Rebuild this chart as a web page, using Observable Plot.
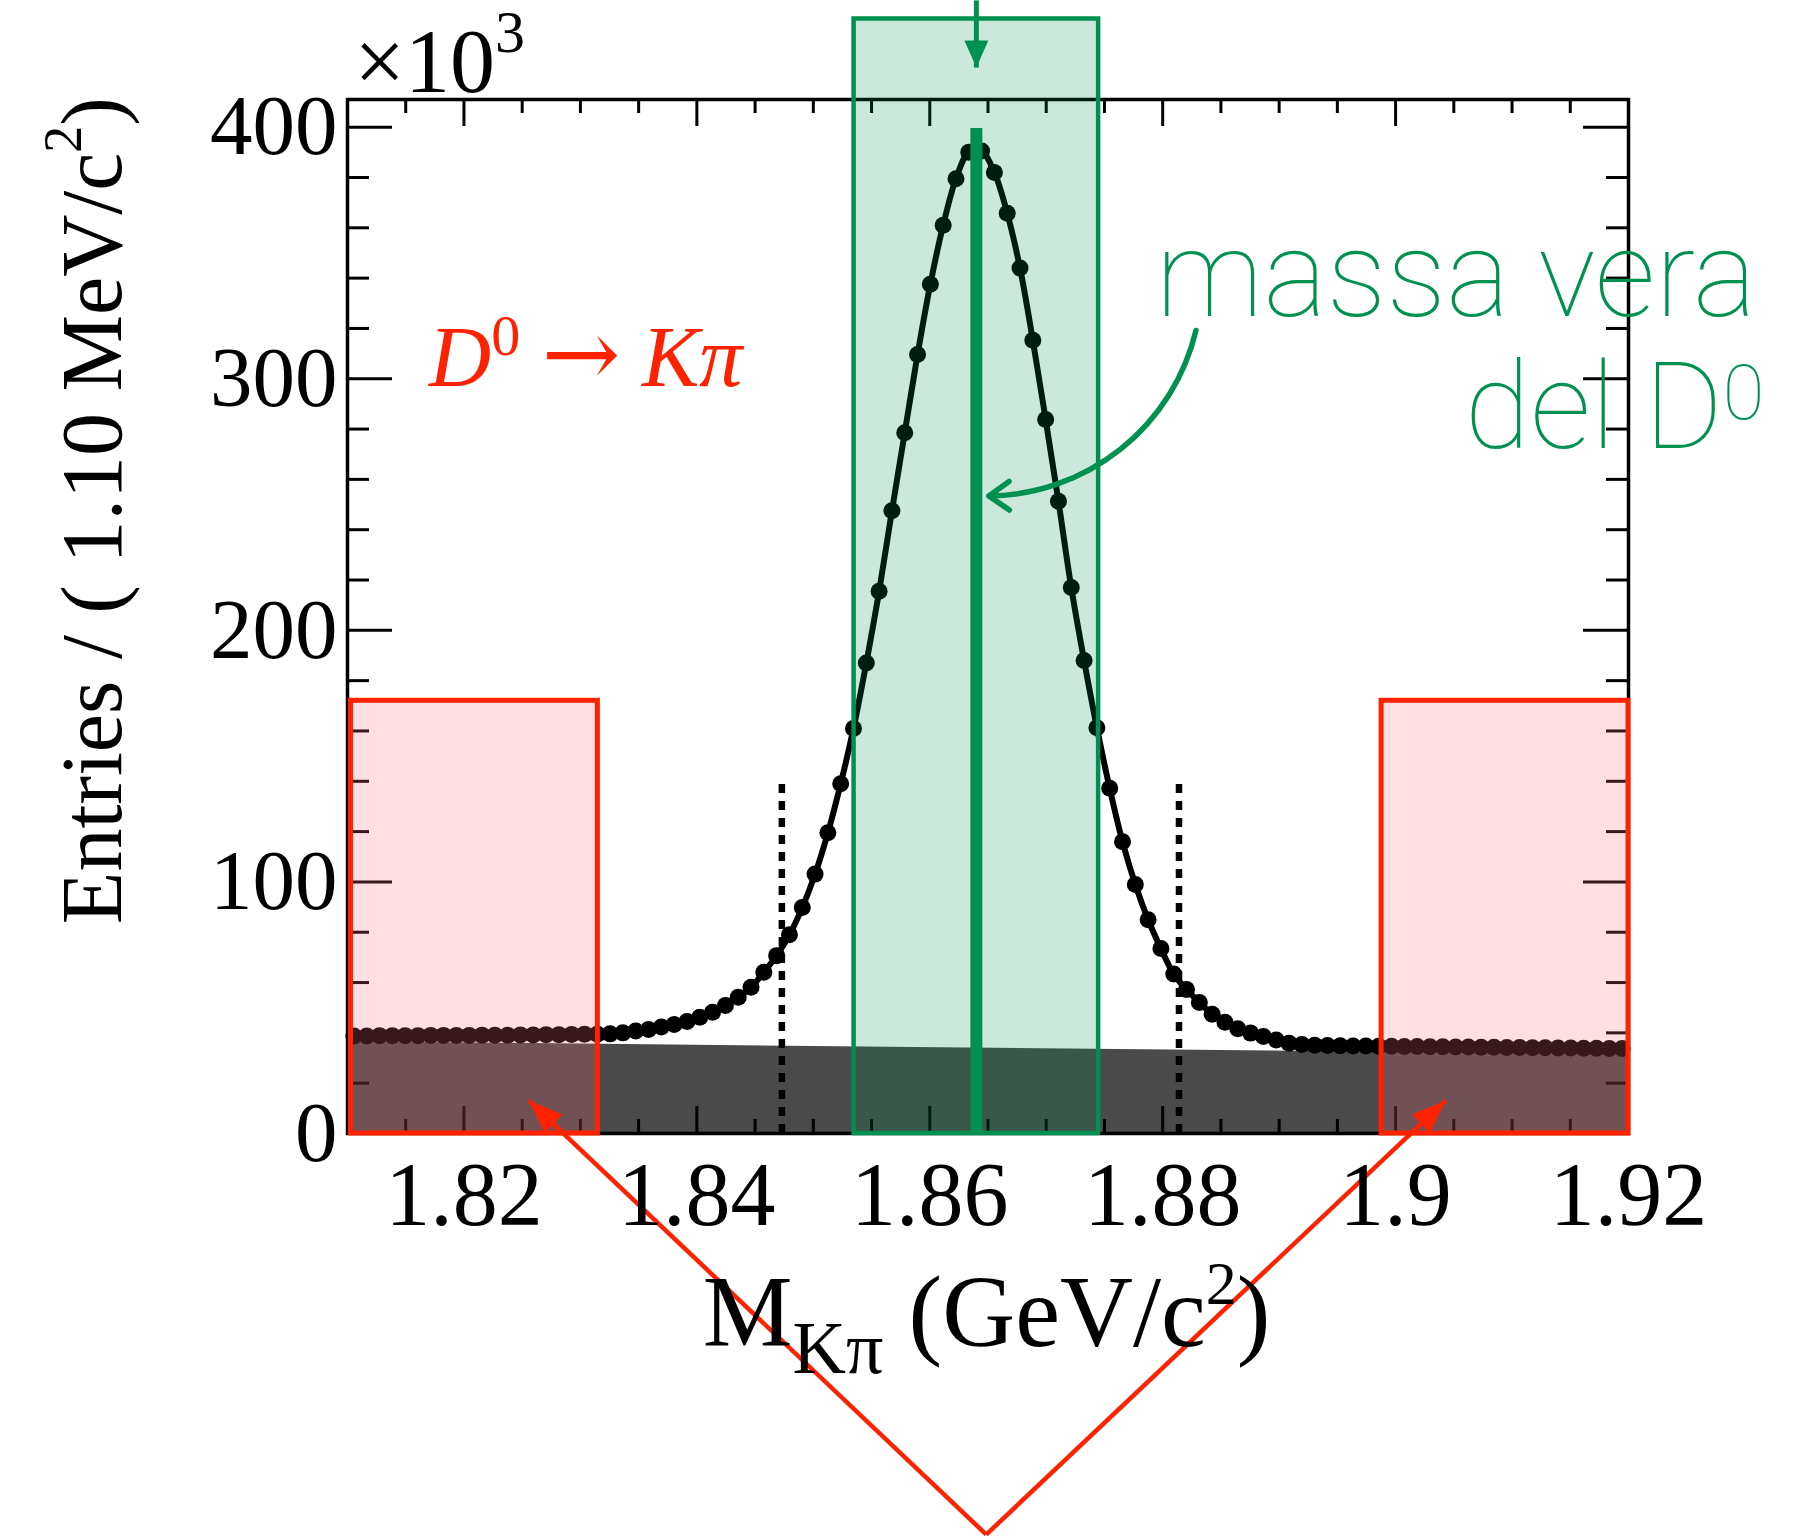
<!DOCTYPE html>
<html>
<head>
<meta charset="utf-8">
<script src="https://cdn.jsdelivr.net/npm/d3@7"></script>
<script src="https://cdn.jsdelivr.net/npm/@observablehq/plot@0.6"></script>
<style>
  html, body { margin: 0; padding: 0; background: #ffffff; }
  #chart svg { display: block; }
</style>
</head>
<body>
<div id="chart"></div>
<script>
// ---------------- data ----------------
// histogram of M(Kπ): 100 bins of 1.10 MeV starting at 1.81 GeV
const binLow = 1.81;
const binWidth = 0.0011;
// entries per bin (×10^3)
const counts = [
  38.8, 38.8, 38.9, 38.9, 38.9, 38.9, 39.0, 39.0, 39.0, 39.0,
  39.1, 39.1, 39.1, 39.2, 39.2, 39.3, 39.3, 39.4, 39.5, 39.5,
  39.6, 40.0, 40.7, 41.3, 42.3, 43.3, 44.5, 46.2, 48.2, 50.9,
  54.2, 58.1, 64.1, 70.7, 79.0, 89.8, 103.1, 119.5, 139.0, 161.0,
  187.0, 215.5, 247.5, 278.5, 309.6, 337.6, 361.0, 379.5, 390.0, 390.5,
  382.0, 365.8, 344.0, 315.3, 283.8, 251.3, 217.0, 188.0, 161.3, 137.2,
  116.0, 99.0, 85.0, 73.5, 63.4, 57.2, 52.1, 47.4, 44.2, 41.6,
  39.9, 38.6, 37.2, 35.9, 35.4, 35.1, 35.0, 34.9, 34.8, 34.8,
  34.7, 34.7, 34.6, 34.6, 34.5, 34.5, 34.4, 34.4, 34.3, 34.3,
  34.2, 34.2, 34.1, 34.1, 34.0, 34.0, 33.9, 33.9, 33.8, 33.8
];
// linear background component (×10^3)
const bgMass = [1.81, 1.92];
const bgCounts = [36.5, 31.3];

// axes
const xDomain = [1.81, 1.92];
const yDomain = [0, 411];
const xMajorTicks = [1.82, 1.84, 1.86, 1.88, 1.90, 1.92];
const xTickLabels = ["1.82", "1.84", "1.86", "1.88", "1.9", "1.92"];
const xMinorTicks = [1.815, 1.825, 1.83, 1.835, 1.845, 1.85, 1.855, 1.865, 1.87, 1.875,
                     1.885, 1.89, 1.895, 1.905, 1.91, 1.915];
const yMajorTicks = [0, 100, 200, 300, 400];
const yTickLabels = ["0", "100", "200", "300", "400"];
const yMinorTicks = [20, 40, 60, 80, 120, 140, 160, 180, 220, 240, 260, 280, 320, 340, 360, 380];

// regions & markers (data units)
const signalWindow = [1.8535, 1.8745];
const signalTop = 443;
const sidebandLo = [1.8103, 1.8315];
const sidebandHi = [1.8988, 1.92];
const sidebandTop = 172;
const trueMass = [1.864];
const trueMassTop = 399.5;
const cutMass = [1.8473, 1.8814];
const cutTop = 139;

// arrows (data units)
const topArrow = [{x: 1.864, y1: 450.4, y2: 423.7}];
const curvedArrow = [{x1: 1.88286, y1: 319.2, x2: 1.86507, y2: 253.4}];
const sidebandArrows = [
  {x1: 1.86485, y1: -159.4, x2: 1.82557, y2: 13.1},
  {x1: 1.86485, y1: -159.4, x2: 1.90430, y2: 13.1}
];

// texts
const exponentText = [{text: "×10^{3}", x: 1.81057, y: 413.8}];
const decayText = [{text: "D^{0} → Kπ", x: 1.81700, y: 297.3}];
const massText = [
  {text: "massa vera", x: 1.93098, y: 325.1},
  {text: "del D^{0}", x: 1.93166, y: 272.3}
];
const xTitle = [{text: "M_{Kπ} (GeV/c^{2})", x: 1.8405, y: -84.3}];
const yTitle = [{text: "Entries / ( 1.10 MeV/c^{2})", x: 1.79058, y: 247.6}];

// ---------------- layout ----------------
const W = 1819, H = 1536, ML = 347, MR = 191, MT = 99, MB = 403;
const PW = W - ML - MR, PH = H - MT - MB;
const sx = d3.scaleLinear(xDomain, [ML, W - MR]);
const sy = d3.scaleLinear(yDomain, [H - MB, MT]);

const SERIF = "'Liberation Serif', 'Times New Roman', serif";
const THIN = "Roboto, Lato, Inter, sans-serif";
const GREEN = "#009150";
const RED = "#ff2200";

const table = counts.map((n, i) => ({m: binLow + binWidth * (i + 0.5), n}));
const bgTable = bgMass.map((m, i) => ({m, n: bgCounts[i]}));

function headSymbol(angle, L, Wd) {
  const c = Math.cos(angle), s = Math.sin(angle);
  return {
    draw(ctx) {
      const bx = -L * c, by = -L * s, px = -s, py = c;
      ctx.moveTo(0, 0);
      ctx.lineTo(bx + Wd * px, by + Wd * py);
      ctx.lineTo(bx - Wd * px, by - Wd * py);
      ctx.closePath();
    }
  };
}
const angleOf = (d) => Math.atan2(sy(d.y2) - sy(d.y1), sx(d.x2) - sx(d.x1));

const TW = 3;
const marks = [
  // background component
  Plot.areaY(bgTable, {x: "m", y: "n", fill: "#4a4a4a"}),
  // ticks (inside the frame, on all four sides)
  Plot.tickX(xMinorTicks, {insetTop: PH - 14, stroke: "#000", strokeWidth: TW}),
  Plot.tickX(xMajorTicks, {insetTop: PH - 27, stroke: "#000", strokeWidth: TW}),
  Plot.tickX(xMinorTicks, {insetBottom: PH - 14, stroke: "#000", strokeWidth: TW}),
  Plot.tickX(xMajorTicks, {insetBottom: PH - 27, stroke: "#000", strokeWidth: TW}),
  Plot.tickY(yMinorTicks, {insetRight: PW - 22, stroke: "#000", strokeWidth: TW}),
  Plot.tickY(yMajorTicks, {insetRight: PW - 45, stroke: "#000", strokeWidth: TW}),
  Plot.tickY(yMinorTicks, {insetLeft: PW - 22, stroke: "#000", strokeWidth: TW}),
  Plot.tickY(yMajorTicks, {insetLeft: PW - 45, stroke: "#000", strokeWidth: TW}),
  // dotted cut lines
  Plot.ruleX(cutMass, {y1: 0, y2: cutTop, stroke: "#000", strokeWidth: 6.5, strokeDasharray: "9,8"}),
  // data + fit
  Plot.line(table, {x: "m", y: "n", curve: "catmull-rom", stroke: "#000", strokeWidth: 6}),
  Plot.dot(table, {x: "m", y: "n", r: 8.5, fill: "#000"}),
  Plot.frame({stroke: "#000", strokeWidth: 3.5}),
  // signal window and sidebands
  Plot.rect([signalWindow], {x1: d => d[0], x2: d => d[1], y1: 0, y2: signalTop,
    fill: "#008c50", fillOpacity: 0.2, stroke: GREEN, strokeWidth: 4.5}),
  Plot.rect([sidebandLo, sidebandHi], {x1: d => d[0], x2: d => d[1], y1: 0, y2: sidebandTop,
    fill: "#ff717a", fillOpacity: 0.22, stroke: RED, strokeWidth: 5}),
  // true mass line
  Plot.ruleX(trueMass, {y1: 0, y2: trueMassTop, stroke: GREEN, strokeWidth: 12}),
  // top green arrow
  Plot.link(topArrow, {x1: "x", x2: "x", y1: "y1", y2: "y2", stroke: GREEN, strokeWidth: 5}),
  Plot.dot(topArrow, {x: "x", y: "y2", r: 10, fill: GREEN, symbol: headSymbol(Math.PI / 2, 27, 12)}),
  // curved green arrow
  Plot.arrow(curvedArrow, {x1: "x1", y1: "y1", x2: "x2", y2: "y2", bend: 38,
    stroke: GREEN, strokeWidth: 5.5, headLength: 6.8, headAngle: 70}),
  // red arrows to sidebands
  Plot.link(sidebandArrows, {x1: "x1", y1: "y1", x2: "x2", y2: "y2", stroke: RED, strokeWidth: 4.5}),
  ...sidebandArrows.map(a => Plot.dot([a], {x: "x2", y: "y2", r: 10, fill: RED,
    symbol: headSymbol(angleOf(a), 34, 13)})),
  // tick labels
  Plot.text(yMajorTicks, {y: d => d, text: (d, i) => yTickLabels[i], frameAnchor: "left", dx: -10,
    textAnchor: "end", lineAnchor: "middle", fontSize: 85, fontFamily: SERIF, fill: "#000"}),
  Plot.text(xMajorTicks, {x: d => d, text: (d, i) => xTickLabels[i], frameAnchor: "bottom", dy: 91,
    textAnchor: "middle", lineAnchor: "bottom", fontSize: 90, fontFamily: SERIF, fill: "#000"}),
  // annotations / titles
  Plot.text(exponentText, {x: "x", y: "y", text: "text", textAnchor: "start", lineAnchor: "bottom",
    fontSize: 90, fontFamily: SERIF, fill: "#000"}),
  Plot.text(decayText, {x: "x", y: "y", text: "text", textAnchor: "start", lineAnchor: "bottom",
    fontSize: 86, fontFamily: SERIF, fontStyle: "italic", fill: RED}),
  Plot.text(massText, {x: "x", y: "y", text: "text", textAnchor: "end", lineAnchor: "bottom",
    fontSize: 120, fontFamily: THIN, fontWeight: 100, fill: GREEN}),
  Plot.text(xTitle, {x: "x", y: "y", text: "text", textAnchor: "start", lineAnchor: "bottom",
    fontSize: 101, fontFamily: SERIF, fill: "#000"}),
  Plot.text(yTitle, {x: "x", y: "y", text: "text", rotate: -90, textAnchor: "middle", lineAnchor: "bottom",
    fontSize: 86, fontFamily: SERIF, fill: "#000"})
];

const svg = Plot.plot({
  width: W, height: H,
  marginLeft: ML, marginRight: MR, marginTop: MT, marginBottom: MB,
  x: {type: "linear", domain: xDomain, axis: null},
  y: {type: "linear", domain: yDomain, axis: null},
  style: {background: "#ffffff", fontFamily: SERIF, overflow: "visible"},
  marks
});

// ---------------- rich text (super/subscripts) ----------------
const richCfg = {
  "×10^{3}": {sup: [60, 40]},
  "D^{0} → Kπ": {sup: [58, 31], supStyle: "normal", arrowFont: "'DejaVu Serif', serif", arrowSize: 94},
  "del D^{0}": {sup: [76, 29]},
  "M_{Kπ} (GeV/c^{2})": {sub: [74, 27], sup: [62, 42]},
  "Entries / ( 1.10 MeV/c^{2})": {sup: [54, 40]}
};
function parseMarkup(s) {
  const out = [];
  let i = 0, buf = "";
  while (i < s.length) {
    if ((s[i] === "^" || s[i] === "_") && s[i + 1] === "{") {
      if (buf) { out.push({t: buf, k: "n"}); buf = ""; }
      const j = s.indexOf("}", i);
      out.push({t: s.slice(i + 2, j), k: s[i] === "^" ? "sup" : "sub"});
      i = j + 1;
    } else if (s[i] === "→") {
      if (buf) { out.push({t: buf, k: "n"}); buf = ""; }
      out.push({t: "→", k: "arrow"});
      i++;
    } else buf += s[i++];
  }
  if (buf) out.push({t: buf, k: "n"});
  return out;
}
d3.select(svg).selectAll("text").each(function () {
  const cfg = richCfg[this.textContent];
  if (!cfg) return;
  const parts = parseMarkup(this.textContent);
  this.textContent = "";
  let cur = 0;
  for (const p of parts) {
    const ts = document.createElementNS("http://www.w3.org/2000/svg", "tspan");
    const target = p.k === "sup" ? -cfg.sup[1] : p.k === "sub" ? cfg.sub[1] : 0;
    if (target - cur !== 0) ts.setAttribute("dy", target - cur);
    cur = target;
    if (p.k === "sup" || p.k === "sub") {
      ts.setAttribute("font-size", cfg[p.k][0]);
      if (cfg.supStyle) ts.setAttribute("font-style", cfg.supStyle);
    }
    if (p.k === "arrow" && cfg.arrowFont) {
      ts.setAttribute("font-family", cfg.arrowFont);
      ts.setAttribute("font-style", "normal");
      if (cfg.arrowSize) ts.setAttribute("font-size", cfg.arrowSize);
    }
    ts.textContent = p.t;
    this.appendChild(ts);
  }
});

document.getElementById("chart").appendChild(svg);
</script>
</body>
</html>
